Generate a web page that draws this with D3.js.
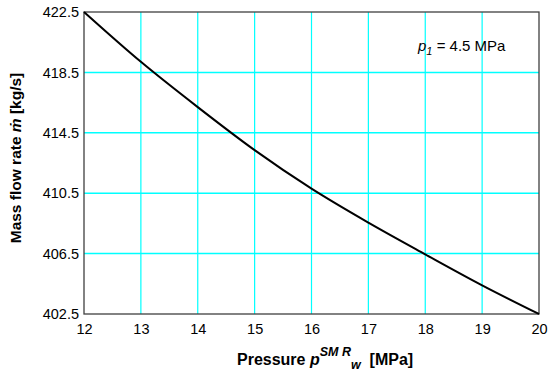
<!DOCTYPE html>
<html>
<head>
<meta charset="utf-8">
<script src="https://cdn.jsdelivr.net/npm/d3@7"></script>
<style>
  body { margin: 0; background: #fff; }
  text { font-family: "Liberation Sans", Arial, sans-serif; white-space: pre; }
</style>
</head>
<body>
<script>
// pressure p_w^SMR [MPa] and mass flow rate [kg/s]
var pressure = [12, 13, 14, 15, 16, 17, 18, 19, 20];
var flowRate = [422.5, 419.2, 416.2, 413.35, 410.8, 408.55, 406.45, 404.4, 402.5];
var xTicks = [12, 13, 14, 15, 16, 17, 18, 19, 20];
var yTicks = [402.5, 406.5, 410.5, 414.5, 418.5, 422.5];

var w = 550, h = 377;
var margin = {left: 84, right: 11, top: 12, bottom: 63};

var svg = d3.select("body")
    .append("svg")
    .attr("width", w)
    .attr("height", h);

var x = d3.scaleLinear()
    .domain([12, 20])
    .range([margin.left, w - margin.right]);
var y = d3.scaleLinear()
    .domain([402.5, 422.5])
    .range([h - margin.bottom, margin.top]);

// grid
svg.selectAll(".vgrid")
    .data(xTicks.slice(1, -1))
    .enter()
    .append("line")
    .attr("class", "vgrid")
    .attr("x1", function(d){ return x(d); })
    .attr("x2", function(d){ return x(d); })
    .attr("y1", y(422.5))
    .attr("y2", y(402.5))
    .style("stroke", "#00ffff")
    .style("stroke-width", 1.2);
svg.selectAll(".hgrid")
    .data(yTicks.slice(1, -1))
    .enter()
    .append("line")
    .attr("class", "hgrid")
    .attr("x1", x(12))
    .attr("x2", x(20))
    .attr("y1", function(d){ return y(d); })
    .attr("y2", function(d){ return y(d); })
    .style("stroke", "#00ffff")
    .style("stroke-width", 1.5);

// frame
svg.append("rect")
    .attr("x", x(12))
    .attr("y", y(422.5))
    .attr("width", x(20) - x(12))
    .attr("height", y(402.5) - y(422.5))
    .style("fill", "none")
    .style("stroke", "#404040")
    .style("stroke-width", 1.3);

// axes (labels only)
var xAxis = d3.axisBottom(x).tickValues(xTicks).tickSize(0).tickPadding(10)
    .tickFormat(d3.format("d"));
var yAxis = d3.axisLeft(y).tickValues(yTicks).tickSize(0).tickPadding(5)
    .tickFormat(d3.format(".1f"));

var gx = svg.append("g")
    .attr("transform", "translate(0," + y(402.5) + ")")
    .call(xAxis);
var gy = svg.append("g")
    .attr("transform", "translate(" + x(12) + ",0)")
    .call(yAxis);
[gx, gy].forEach(function(g){
    g.select(".domain").remove();
    g.selectAll("text")
        .style("font-family", "'Liberation Sans', Arial, sans-serif")
        .style("font-size", "14.5px")
        .style("fill", "#000");
});

// curve
var line = d3.line()
    .x(function(d, i){ return x(pressure[i]); })
    .y(function(d){ return y(d); })
    .curve(d3.curveMonotoneX);
svg.append("path")
    .datum(flowRate)
    .attr("d", line)
    .style("fill", "none")
    .style("stroke", "#000")
    .style("stroke-width", 2);

// annotation
var note = svg.append("text")
    .attr("x", 418)
    .attr("y", 51)
    .style("font-size", "15px");
note.append("tspan").style("font-style", "italic").text("p");
note.append("tspan").style("font-style", "italic").style("font-size", "11px")
    .attr("dy", 4).text("1");
note.append("tspan").attr("dy", -4).text(" = 4.5 MPa");

// x label
var xl = svg.append("text")
    .attr("x", 237)
    .attr("y", 365)
    .style("font-size", "16px")
    .style("font-weight", "bold");
xl.append("tspan").text("Pressure ");
xl.append("tspan").style("font-style", "italic").text("p");
xl.append("tspan").style("font-style", "italic").style("font-size", "12.5px")
    .attr("dy", -9).text("SM R");
xl.append("tspan").style("font-style", "italic").style("font-size", "12.5px")
    .attr("dy", 13).text("w");
xl.append("tspan").attr("dy", -4).text("  [MPa]");

// y label
var yl = svg.append("text")
    .attr("transform", "translate(21,158) rotate(-90)")
    .attr("text-anchor", "middle")
    .style("font-size", "15.5px")
    .style("font-weight", "bold");
yl.append("tspan").text("Mass flow rate ");
yl.append("tspan").style("font-style", "italic").text("\u1E41");
yl.append("tspan").text(" [kg/s]");
</script>
</body>
</html>
